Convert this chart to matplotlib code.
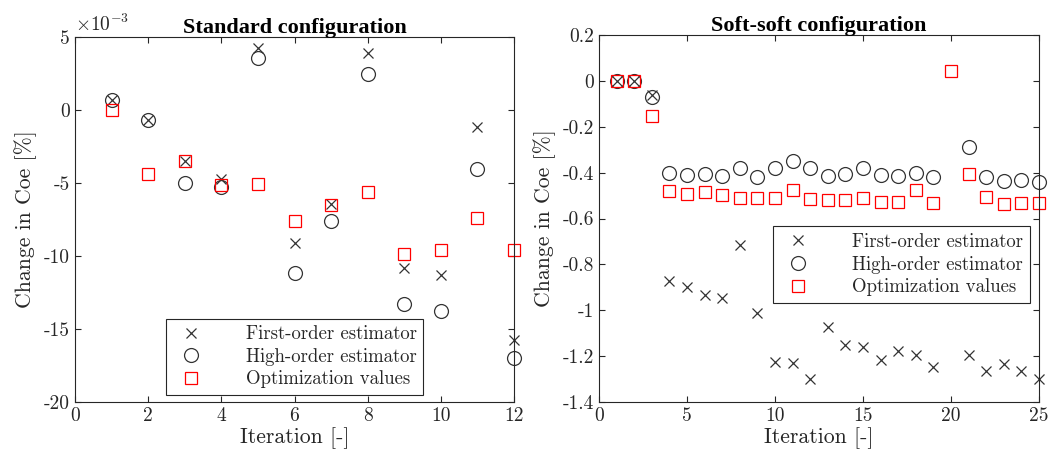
import numpy as np
import matplotlib
matplotlib.use('Agg')
import matplotlib.pyplot as plt
from matplotlib.ticker import FuncFormatter

# Standard configuration (change in Coe, %)
iter_std = [1, 2, 3, 4, 5, 6, 7, 8, 9, 10, 11, 12]
first_std = [0.70e-3, -0.70e-3, -3.5e-3, -4.76e-3, 4.24e-3, -9.14e-3,
             -6.46e-3, 3.90e-3, -10.8e-3, -11.3e-3, -1.2e-3, -15.76e-3]
high_std = [0.70e-3, -0.70e-3, -5.0e-3, -5.28e-3, 3.56e-3, -11.2e-3,
            -7.6e-3, 2.47e-3, -13.3e-3, -13.8e-3, -4.06e-3, -17.0e-3]
opt_std = [0.0, -4.37e-3, -3.5e-3, -5.15e-3, -5.05e-3, -7.6e-3,
           -6.48e-3, -5.65e-3, -9.88e-3, -9.6e-3, -7.39e-3, -9.6e-3]

# Soft-soft configuration (no estimator values at iteration 20)
iter_soft = list(range(1, 26))
first_soft = [0.0, 0.0, -0.062, -0.874, -0.899, -0.932, -0.947, -0.714,
              -1.013, -1.224, -1.229, -1.299, -1.074, -1.151, -1.161,
              -1.219, -1.178, -1.197, -1.248, np.nan, -1.197, -1.263,
              -1.234, -1.263, -1.299]
high_soft = [0.0, 0.0, -0.072, -0.400, -0.408, -0.405, -0.413, -0.381,
             -0.419, -0.378, -0.347, -0.381, -0.416, -0.405, -0.381,
             -0.408, -0.416, -0.400, -0.421, np.nan, -0.288, -0.419,
             -0.435, -0.432, -0.439]
opt_soft = [0.0, 0.0, -0.152, -0.478, -0.493, -0.484, -0.496, -0.510,
            -0.510, -0.510, -0.477, -0.513, -0.518, -0.518, -0.509,
            -0.528, -0.528, -0.474, -0.532, 0.044, -0.404, -0.506,
            -0.535, -0.532, -0.532]

plt.rcParams['font.family'] = 'cmr10'
plt.rcParams['mathtext.fontset'] = 'cm'
plt.rcParams['axes.unicode_minus'] = False
plt.rcParams['axes.formatter.use_mathtext'] = False

grey = '#262626'
fig = plt.figure(figsize=(10.49, 4.62), dpi=100)
ax1 = fig.add_axes([0.0715, 0.13, 0.4185, 0.79])
ax2 = fig.add_axes([0.571, 0.13, 0.4195, 0.794])


def dibujar(ax, it, first, high, opt):
    ax.plot(it, first, ls='none', marker='x', ms=7.5, mew=0.9, color='#333333',
            label='First-order estimator', clip_on=False)
    ax.plot(it, high, ls='none', marker='o', ms=10, mew=0.9, mfc='none',
            color='#333333', label='High-order estimator', clip_on=False)
    ax.plot(it, opt, ls='none', marker='s', ms=9, mew=0.9, mfc='none',
            color='red', label='Optimization values', clip_on=False)
    ax.tick_params(direction='in', top=True, right=True, labelsize=14,
                   colors=grey, length=4, width=0.8, labelcolor=grey)
    for s in ax.spines.values():
        s.set_color(grey)
        s.set_linewidth(0.8)
    ax.set_xlabel('Iteration [-]', fontsize=15.7, color=grey, labelpad=2)
    ax.set_ylabel('Change in Coe [%]', fontsize=15.7, color=grey, labelpad=5)


def leyenda(ax, x, y):
    leg = ax.legend(loc='lower left', bbox_to_anchor=(x, y), fontsize=13.5,
                    fancybox=False, edgecolor=grey, framealpha=1,
                    handletextpad=1.9, borderpad=0.35, labelspacing=0.25,
                    handlelength=2.0, borderaxespad=0)
    leg.get_frame().set_linewidth(0.8)
    for t in leg.get_texts():
        t.set_color(grey)


dibujar(ax1, iter_std, first_std, high_std, opt_std)
ax1.set_xlim(0, 12)
ax1.set_ylim(-20e-3, 5e-3)
ax1.set_xticks(range(0, 13, 2))
ax1.set_yticks(np.arange(-20e-3, 5.1e-3, 5e-3))
ax1.yaxis.set_major_formatter(FuncFormatter(lambda v, p: f'{round(v * 1e3):d}'))
ax1.text(0.0, 1.005, r'$\times10^{-3}$', transform=ax1.transAxes,
         fontsize=14, color=grey, ha='left', va='bottom')
ax1.set_title('Standard configuration', fontsize=16, fontweight='bold',
              family='Liberation Serif', pad=3)
leyenda(ax1, 0.207, 0.019)

dibujar(ax2, iter_soft, first_soft, high_soft, opt_soft)
ax2.set_xlim(0, 25)
ax2.set_ylim(-1.4, 0.2)
ax2.set_xticks(range(0, 26, 5))
ax2.set_yticks(np.round(np.arange(-1.4, 0.21, 0.2), 1))
ax2.yaxis.set_major_formatter(FuncFormatter(lambda v, p: f'{round(v, 1) + 0:g}'))
ax2.set_title('Soft-soft configuration', fontsize=16, fontweight='bold',
              family='Liberation Serif', pad=3)
leyenda(ax2, 0.395, 0.27)

fig.savefig('out.png', dpi=100)
